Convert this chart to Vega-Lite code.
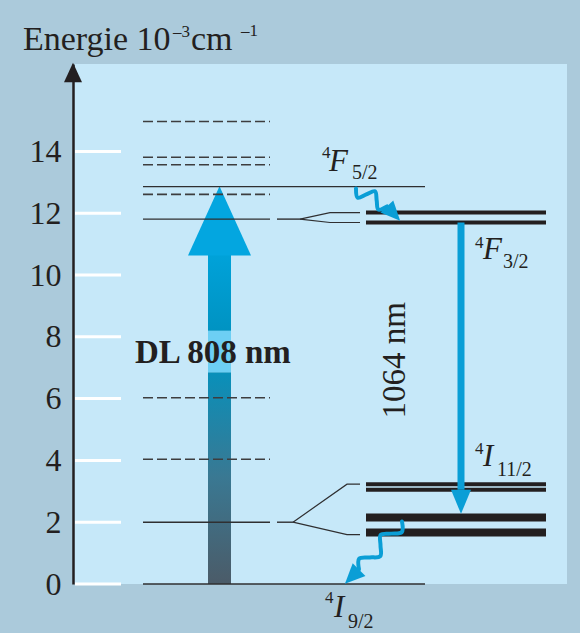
{
  "$schema": "https://vega.github.io/schema/vega-lite/v6.json",
  "width": 494,
  "height": 520,
  "autosize": "none",
  "padding": {"left": 73, "top": 64, "right": 13, "bottom": 49},
  "background": "#abcadb",
  "config": {
    "view": {"fill": "#c6e8f9", "stroke": null},
    "axisY": {"domainColor": "#231f20", "domainWidth": 2.5, "ticks": false, "grid": false, "labelFont": "Liberation Serif", "labelFontSize": 32, "labelColor": "#231f20", "labelPadding": 12, "labelFlush": false}
  },
  "datasets": {
    "ticks": [{"e": 0}, {"e": 2}, {"e": 4}, {"e": 6}, {"e": 8}, {"e": 10}, {"e": 12}, {"e": 14}],
    "pump": [
      {"seg": "low", "x1": 135, "x2": 158, "e1": 0, "e2": 6.85},
      {"seg": "band", "x1": 135, "x2": 158, "e1": 6.85, "e2": 8.2},
      {"seg": "up", "x1": 135, "x2": 158, "e1": 8.2, "e2": 10.65}
    ],
    "pumphead": [{"x": 115, "e": 10.63}, {"x": 146.5, "e": 12.87}, {"x": 178, "e": 10.63}],
    "levels": [
      {"kind": "dashed", "x1": 70, "x2": 197, "e": 14.97},
      {"kind": "dashed", "x1": 70, "x2": 197, "e": 13.81},
      {"kind": "dashed", "x1": 70, "x2": 197, "e": 13.57},
      {"kind": "dashed", "x1": 70, "x2": 197, "e": 12.61},
      {"kind": "dashed", "x1": 70, "x2": 197, "e": 6.03},
      {"kind": "dashed", "x1": 70, "x2": 197, "e": 4.04},
      {"kind": "solid", "x1": 70, "x2": 352, "e": 12.86},
      {"kind": "solid", "x1": 70, "x2": 197, "e": 11.81},
      {"kind": "solid", "x1": 204, "x2": 227, "e": 11.81},
      {"kind": "solid", "x1": 70, "x2": 197, "e": 2.0},
      {"kind": "solid", "x1": 204, "x2": 220, "e": 2.0},
      {"kind": "solid", "x1": 70, "x2": 352, "e": 0},
      {"kind": "thick4", "x1": 293, "x2": 473, "e": 12.02},
      {"kind": "thick4", "x1": 293, "x2": 473, "e": 11.70},
      {"kind": "thick4", "x1": 293, "x2": 473, "e": 3.23},
      {"kind": "thick4", "x1": 293, "x2": 473, "e": 3.05},
      {"kind": "thick8", "x1": 293, "x2": 473, "e": 2.15},
      {"kind": "thick8", "x1": 293, "x2": 473, "e": 1.67}
    ],
    "fans": [
      {"g": "a", "o": 0, "x": 227, "e": 11.81}, {"g": "a", "o": 1, "x": 257, "e": 12.02}, {"g": "a", "o": 2, "x": 287, "e": 12.02},
      {"g": "b", "o": 0, "x": 227, "e": 11.81}, {"g": "b", "o": 1, "x": 257, "e": 11.70}, {"g": "b", "o": 2, "x": 287, "e": 11.70},
      {"g": "c", "o": 0, "x": 220, "e": 2.0}, {"g": "c", "o": 1, "x": 274, "e": 3.23}, {"g": "c", "o": 2, "x": 287, "e": 3.23},
      {"g": "d", "o": 0, "x": 220, "e": 2.0}, {"g": "d", "o": 1, "x": 274, "e": 1.60}, {"g": "d", "o": 2, "x": 287, "e": 1.60}
    ],
    "laser": [{"x": 388, "e1": 11.70, "e2": 3.05}],
    "laserhead": [{"x": 378, "e": 3.05}, {"x": 388, "e": 2.27}, {"x": 398, "e": 3.05}],
    "waves": [
      {"g": "up", "o": 0, "x": 283, "e": 12.80},
      {"g": "up", "o": 1, "x": 284.7, "e": 12.50},
      {"g": "up", "o": 2, "x": 293.3, "e": 12.61},
      {"g": "up", "o": 3, "x": 302, "e": 12.71},
      {"g": "up", "o": 4, "x": 303.7, "e": 12.41},
      {"g": "up", "o": 5, "x": 305.3, "e": 12.12},
      {"g": "up", "o": 6, "x": 314, "e": 12.22},
      {"g": "lo", "o": 0, "x": 329, "e": 2.02},
      {"g": "lo", "o": 1, "x": 328.8, "e": 1.68},
      {"g": "lo", "o": 2, "x": 318.25, "e": 1.63},
      {"g": "lo", "o": 3, "x": 307.7, "e": 1.59},
      {"g": "lo", "o": 4, "x": 307.5, "e": 1.25},
      {"g": "lo", "o": 5, "x": 307.3, "e": 0.90},
      {"g": "lo", "o": 6, "x": 296.75, "e": 0.86},
      {"g": "lo", "o": 7, "x": 286.2, "e": 0.82},
      {"g": "lo", "o": 8, "x": 286, "e": 0.47}
    ],
    "waveheads": [{"g": "up", "x": 320.5, "e": 11.99}, {"g": "lo", "x": 279, "e": 0.24}],
    "axisarrow": [{"x": -9, "e": 16.24}, {"x": 0, "e": 16.87}, {"x": 9, "e": 16.24}],
    "labels": [
      {"t": "Energie 10", "x": -50, "e": 17.27, "r": "title"},
      {"t": "–3", "x": 100, "e": 17.69, "r": "tsup"},
      {"t": "cm", "x": 118, "e": 17.27, "r": "title"},
      {"t": "–1", "x": 168, "e": 17.75, "r": "tsup"},
      {"t": "4", "x": 249, "e": 13.80, "r": "sup"},
      {"t": "F", "x": 256, "e": 13.38, "r": "big"},
      {"t": "5/2", "x": 279, "e": 13.12, "r": "sub"},
      {"t": "4", "x": 402, "e": 10.89, "r": "sup"},
      {"t": "F", "x": 410, "e": 10.53, "r": "big"},
      {"t": "3/2", "x": 430, "e": 10.24, "r": "sub"},
      {"t": "4", "x": 402, "e": 4.22, "r": "sup"},
      {"t": "I", "x": 410, "e": 3.83, "r": "big"},
      {"t": "11/2", "x": 424, "e": 3.51, "r": "sub"},
      {"t": "4", "x": 252, "e": -0.63, "r": "sup"},
      {"t": "I", "x": 261, "e": -1.08, "r": "big"},
      {"t": "9/2", "x": 275, "e": -1.41, "r": "sub"},
      {"t": "DL 808 nm", "x": 62, "e": 7.14, "r": "dl"},
      {"t": "1064 nm", "x": 332, "e": 5.36, "r": "nm"}
    ]
  },
  "layer": [
    {
      "data": {"name": "ticks"},
      "mark": {"type": "rule", "color": "#ffffff", "strokeWidth": 3},
      "encoding": {
        "x": {"datum": 2, "type": "quantitative", "scale": {"domain": [0, 494], "nice": false, "zero": false}, "axis": null},
        "x2": {"datum": 48},
        "y": {"field": "e", "type": "quantitative", "scale": {"domain": [0, 16.83], "nice": false, "zero": false}, "axis": {"title": null, "values": [0, 2, 4, 6, 8, 10, 12, 14]}}
      }
    },
    {
      "data": {"name": "pump"},
      "transform": [{"filter": "datum.seg === 'low'"}],
      "mark": {"type": "rect", "color": {"gradient": "linear", "x1": 0, "y1": 1, "x2": 0, "y2": 0, "stops": [{"offset": 0, "color": "#4b5b68"}, {"offset": 0.5, "color": "#3a7892"}, {"offset": 1, "color": "#0990ba"}]}},
      "encoding": {
        "x": {"field": "x1", "type": "quantitative", "scale": {"domain": [0, 494], "nice": false, "zero": false}, "axis": null},
        "x2": {"field": "x2"},
        "y": {"field": "e1", "type": "quantitative", "scale": {"domain": [0, 16.83], "nice": false, "zero": false}, "axis": {"title": null, "values": [0, 2, 4, 6, 8, 10, 12, 14]}},
        "y2": {"field": "e2"}
      }
    },
    {
      "data": {"name": "pump"},
      "transform": [{"filter": "datum.seg === 'band'"}],
      "mark": {"type": "rect", "color": "#6dcff4"},
      "encoding": {
        "x": {"field": "x1", "type": "quantitative", "scale": {"domain": [0, 494], "nice": false, "zero": false}, "axis": null},
        "x2": {"field": "x2"},
        "y": {"field": "e1", "type": "quantitative", "scale": {"domain": [0, 16.83], "nice": false, "zero": false}, "axis": {"title": null, "values": [0, 2, 4, 6, 8, 10, 12, 14]}},
        "y2": {"field": "e2"}
      }
    },
    {
      "data": {"name": "pump"},
      "transform": [{"filter": "datum.seg === 'up'"}],
      "mark": {"type": "rect", "color": {"gradient": "linear", "x1": 0, "y1": 1, "x2": 0, "y2": 0, "stops": [{"offset": 0, "color": "#0093c2"}, {"offset": 1, "color": "#00a2d9"}]}},
      "encoding": {
        "x": {"field": "x1", "type": "quantitative", "scale": {"domain": [0, 494], "nice": false, "zero": false}, "axis": null},
        "x2": {"field": "x2"},
        "y": {"field": "e1", "type": "quantitative", "scale": {"domain": [0, 16.83], "nice": false, "zero": false}, "axis": {"title": null, "values": [0, 2, 4, 6, 8, 10, 12, 14]}},
        "y2": {"field": "e2"}
      }
    },
    {
      "data": {"name": "pumphead"},
      "mark": {"type": "area", "orient": "vertical", "color": "#03a6e0", "interpolate": "linear"},
      "encoding": {
        "x": {"field": "x", "type": "quantitative", "scale": {"domain": [0, 494], "nice": false, "zero": false}, "axis": null},
        "y": {"field": "e", "type": "quantitative", "scale": {"domain": [0, 16.83], "nice": false, "zero": false}, "axis": {"title": null, "values": [0, 2, 4, 6, 8, 10, 12, 14]}},
        "y2": {"datum": 10.63}
      }
    },
    {
      "data": {"name": "levels"},
      "transform": [{"filter": "datum.kind === 'dashed'"}],
      "mark": {"type": "rule", "color": "#3d3d3f", "strokeWidth": 1.6, "strokeDash": [10, 4]},
      "encoding": {
        "x": {"field": "x1", "type": "quantitative", "scale": {"domain": [0, 494], "nice": false, "zero": false}, "axis": null},
        "x2": {"field": "x2"},
        "y": {"field": "e", "type": "quantitative", "scale": {"domain": [0, 16.83], "nice": false, "zero": false}, "axis": {"title": null, "values": [0, 2, 4, 6, 8, 10, 12, 14]}}
      }
    },
    {
      "data": {"name": "levels"},
      "transform": [{"filter": "datum.kind === 'solid'"}],
      "mark": {"type": "rule", "color": "#2f2f31", "strokeWidth": 1.4},
      "encoding": {
        "x": {"field": "x1", "type": "quantitative", "scale": {"domain": [0, 494], "nice": false, "zero": false}, "axis": null},
        "x2": {"field": "x2"},
        "y": {"field": "e", "type": "quantitative", "scale": {"domain": [0, 16.83], "nice": false, "zero": false}, "axis": {"title": null, "values": [0, 2, 4, 6, 8, 10, 12, 14]}}
      }
    },
    {
      "data": {"name": "fans"},
      "mark": {"type": "line", "color": "#2f2f31", "strokeWidth": 1.2},
      "encoding": {
        "x": {"field": "x", "type": "quantitative", "scale": {"domain": [0, 494], "nice": false, "zero": false}, "axis": null},
        "y": {"field": "e", "type": "quantitative", "scale": {"domain": [0, 16.83], "nice": false, "zero": false}, "axis": {"title": null, "values": [0, 2, 4, 6, 8, 10, 12, 14]}},
        "detail": {"field": "g"},
        "order": {"field": "o"}
      }
    },
    {
      "data": {"name": "levels"},
      "transform": [{"filter": "datum.kind === 'thick4'"}],
      "mark": {"type": "rule", "color": "#231f20", "strokeWidth": 4},
      "encoding": {
        "x": {"field": "x1", "type": "quantitative", "scale": {"domain": [0, 494], "nice": false, "zero": false}, "axis": null},
        "x2": {"field": "x2"},
        "y": {"field": "e", "type": "quantitative", "scale": {"domain": [0, 16.83], "nice": false, "zero": false}, "axis": {"title": null, "values": [0, 2, 4, 6, 8, 10, 12, 14]}}
      }
    },
    {
      "data": {"name": "levels"},
      "transform": [{"filter": "datum.kind === 'thick8'"}],
      "mark": {"type": "rule", "color": "#231f20", "strokeWidth": 8},
      "encoding": {
        "x": {"field": "x1", "type": "quantitative", "scale": {"domain": [0, 494], "nice": false, "zero": false}, "axis": null},
        "x2": {"field": "x2"},
        "y": {"field": "e", "type": "quantitative", "scale": {"domain": [0, 16.83], "nice": false, "zero": false}, "axis": {"title": null, "values": [0, 2, 4, 6, 8, 10, 12, 14]}}
      }
    },
    {
      "data": {"name": "laser"},
      "mark": {"type": "rule", "color": "#0a9ed6", "strokeWidth": 7},
      "encoding": {
        "x": {"field": "x", "type": "quantitative", "scale": {"domain": [0, 494], "nice": false, "zero": false}, "axis": null},
        "y": {"field": "e1", "type": "quantitative", "scale": {"domain": [0, 16.83], "nice": false, "zero": false}, "axis": {"title": null, "values": [0, 2, 4, 6, 8, 10, 12, 14]}},
        "y2": {"field": "e2"}
      }
    },
    {
      "data": {"name": "laserhead"},
      "mark": {"type": "area", "orient": "vertical", "color": "#0a9ed6"},
      "encoding": {
        "x": {"field": "x", "type": "quantitative", "scale": {"domain": [0, 494], "nice": false, "zero": false}, "axis": null},
        "y": {"field": "e", "type": "quantitative", "scale": {"domain": [0, 16.83], "nice": false, "zero": false}, "axis": {"title": null, "values": [0, 2, 4, 6, 8, 10, 12, 14]}},
        "y2": {"datum": 3.05}
      }
    },
    {
      "data": {"name": "waves"},
      "mark": {"type": "line", "color": "#0a9ed6", "strokeWidth": 4, "interpolate": "catmull-rom", "strokeCap": "round"},
      "encoding": {
        "x": {"field": "x", "type": "quantitative", "scale": {"domain": [0, 494], "nice": false, "zero": false}, "axis": null},
        "y": {"field": "e", "type": "quantitative", "scale": {"domain": [0, 16.83], "nice": false, "zero": false}, "axis": {"title": null, "values": [0, 2, 4, 6, 8, 10, 12, 14]}},
        "detail": {"field": "g"},
        "order": {"field": "o"}
      }
    },
    {
      "data": {"name": "waveheads"},
      "transform": [{"filter": "datum.g === 'up'"}],
      "mark": {"type": "point", "shape": "M0,-1L0.9,1L-0.9,1Z", "filled": true, "opacity": 1, "color": "#0a9ed6", "size": 380, "angle": 137},
      "encoding": {
        "x": {"field": "x", "type": "quantitative", "scale": {"domain": [0, 494], "nice": false, "zero": false}, "axis": null},
        "y": {"field": "e", "type": "quantitative", "scale": {"domain": [0, 16.83], "nice": false, "zero": false}, "axis": {"title": null, "values": [0, 2, 4, 6, 8, 10, 12, 14]}}
      }
    },
    {
      "data": {"name": "waveheads"},
      "transform": [{"filter": "datum.g === 'lo'"}],
      "mark": {"type": "point", "shape": "M0,-1L0.9,1L-0.9,1Z", "filled": true, "opacity": 1, "color": "#0a9ed6", "size": 400, "angle": 225},
      "encoding": {
        "x": {"field": "x", "type": "quantitative", "scale": {"domain": [0, 494], "nice": false, "zero": false}, "axis": null},
        "y": {"field": "e", "type": "quantitative", "scale": {"domain": [0, 16.83], "nice": false, "zero": false}, "axis": {"title": null, "values": [0, 2, 4, 6, 8, 10, 12, 14]}}
      }
    },
    {
      "data": {"name": "axisarrow"},
      "mark": {"type": "area", "orient": "vertical", "color": "#231f20"},
      "encoding": {
        "x": {"field": "x", "type": "quantitative", "scale": {"domain": [0, 494], "nice": false, "zero": false}, "axis": null},
        "y": {"field": "e", "type": "quantitative", "scale": {"domain": [0, 16.83], "nice": false, "zero": false}, "axis": {"title": null, "values": [0, 2, 4, 6, 8, 10, 12, 14]}},
        "y2": {"datum": 16.24}
      }
    },
    {
      "data": {"name": "labels"},
      "transform": [{"filter": "datum.r === 'title'"}],
      "mark": {"type": "text", "font": "Liberation Serif", "fontSize": 34, "color": "#231f20", "align": "left", "baseline": "alphabetic"},
      "encoding": {
        "x": {"field": "x", "type": "quantitative", "scale": {"domain": [0, 494], "nice": false, "zero": false}, "axis": null},
        "y": {"field": "e", "type": "quantitative", "scale": {"domain": [0, 16.83], "nice": false, "zero": false}, "axis": {"title": null, "values": [0, 2, 4, 6, 8, 10, 12, 14]}},
        "text": {"field": "t"}
      }
    },
    {
      "data": {"name": "labels"},
      "transform": [{"filter": "datum.r === 'tsup'"}],
      "mark": {"type": "text", "font": "Liberation Serif", "fontSize": 17, "color": "#231f20", "align": "left", "baseline": "alphabetic"},
      "encoding": {
        "x": {"field": "x", "type": "quantitative", "scale": {"domain": [0, 494], "nice": false, "zero": false}, "axis": null},
        "y": {"field": "e", "type": "quantitative", "scale": {"domain": [0, 16.83], "nice": false, "zero": false}, "axis": {"title": null, "values": [0, 2, 4, 6, 8, 10, 12, 14]}},
        "text": {"field": "t"}
      }
    },
    {
      "data": {"name": "labels"},
      "transform": [{"filter": "datum.r === 'sup'"}],
      "mark": {"type": "text", "font": "Liberation Serif", "fontSize": 17, "color": "#231f20", "align": "left", "baseline": "alphabetic"},
      "encoding": {
        "x": {"field": "x", "type": "quantitative", "scale": {"domain": [0, 494], "nice": false, "zero": false}, "axis": null},
        "y": {"field": "e", "type": "quantitative", "scale": {"domain": [0, 16.83], "nice": false, "zero": false}, "axis": {"title": null, "values": [0, 2, 4, 6, 8, 10, 12, 14]}},
        "text": {"field": "t"}
      }
    },
    {
      "data": {"name": "labels"},
      "transform": [{"filter": "datum.r === 'big'"}],
      "mark": {"type": "text", "font": "Liberation Serif", "fontSize": 31, "fontStyle": "italic", "color": "#231f20", "align": "left", "baseline": "alphabetic"},
      "encoding": {
        "x": {"field": "x", "type": "quantitative", "scale": {"domain": [0, 494], "nice": false, "zero": false}, "axis": null},
        "y": {"field": "e", "type": "quantitative", "scale": {"domain": [0, 16.83], "nice": false, "zero": false}, "axis": {"title": null, "values": [0, 2, 4, 6, 8, 10, 12, 14]}},
        "text": {"field": "t"}
      }
    },
    {
      "data": {"name": "labels"},
      "transform": [{"filter": "datum.r === 'sub'"}],
      "mark": {"type": "text", "font": "Liberation Serif", "fontSize": 20, "color": "#231f20", "align": "left", "baseline": "alphabetic"},
      "encoding": {
        "x": {"field": "x", "type": "quantitative", "scale": {"domain": [0, 494], "nice": false, "zero": false}, "axis": null},
        "y": {"field": "e", "type": "quantitative", "scale": {"domain": [0, 16.83], "nice": false, "zero": false}, "axis": {"title": null, "values": [0, 2, 4, 6, 8, 10, 12, 14]}},
        "text": {"field": "t"}
      }
    },
    {
      "data": {"name": "labels"},
      "transform": [{"filter": "datum.r === 'dl'"}],
      "mark": {"type": "text", "font": "Liberation Serif", "fontSize": 33, "fontWeight": "bold", "color": "#231f20", "align": "left", "baseline": "alphabetic"},
      "encoding": {
        "x": {"field": "x", "type": "quantitative", "scale": {"domain": [0, 494], "nice": false, "zero": false}, "axis": null},
        "y": {"field": "e", "type": "quantitative", "scale": {"domain": [0, 16.83], "nice": false, "zero": false}, "axis": {"title": null, "values": [0, 2, 4, 6, 8, 10, 12, 14]}},
        "text": {"field": "t"}
      }
    },
    {
      "data": {"name": "labels"},
      "transform": [{"filter": "datum.r === 'nm'"}],
      "mark": {"type": "text", "font": "Liberation Serif", "fontSize": 33, "color": "#231f20", "align": "left", "baseline": "alphabetic", "angle": 270},
      "encoding": {
        "x": {"field": "x", "type": "quantitative", "scale": {"domain": [0, 494], "nice": false, "zero": false}, "axis": null},
        "y": {"field": "e", "type": "quantitative", "scale": {"domain": [0, 16.83], "nice": false, "zero": false}, "axis": {"title": null, "values": [0, 2, 4, 6, 8, 10, 12, 14]}},
        "text": {"field": "t"}
      }
    }
  ]
}
